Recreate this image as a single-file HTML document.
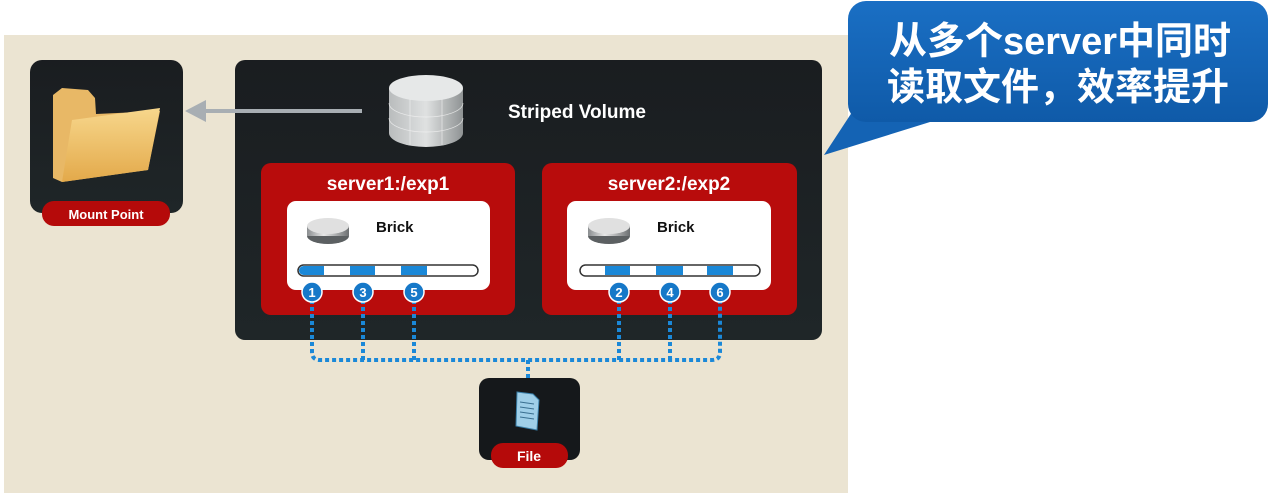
<!DOCTYPE html>
<html><head><meta charset="utf-8"><style>
html,body{margin:0;padding:0;background:#fff;}
svg{display:block;}
text{font-family:"Liberation Sans","DejaVu Sans","Noto Sans CJK SC",sans-serif;font-weight:bold;}
</style></head><body>
<svg width="1268" height="493" viewBox="0 0 1268 493" xmlns="http://www.w3.org/2000/svg">
<defs>
<linearGradient id="dark" x1="0" y1="0" x2="0" y2="1"><stop offset="0" stop-color="#1a1d20"/><stop offset="1" stop-color="#1f2628"/></linearGradient>
<linearGradient id="disk" x1="0" y1="0" x2="1" y2="0"><stop offset="0" stop-color="#8a8d8f"/><stop offset="0.4" stop-color="#e8e8e8"/><stop offset="1" stop-color="#6c6f71"/></linearGradient>
<linearGradient id="cyl" x1="0" y1="0" x2="1" y2="0"><stop offset="0" stop-color="#b9bcbd"/><stop offset="0.5" stop-color="#dfe1e1"/><stop offset="1" stop-color="#8f9394"/></linearGradient>
<linearGradient id="fold" x1="0" y1="0" x2="0" y2="1"><stop offset="0" stop-color="#f7d78c"/><stop offset="1" stop-color="#e3a94a"/></linearGradient>
<linearGradient id="blue" x1="0" y1="0" x2="0" y2="1"><stop offset="0" stop-color="#1a6fc4"/><stop offset="1" stop-color="#0f5aa8"/></linearGradient>
</defs>
<!-- background -->
<rect x="4" y="35" width="844" height="458" fill="#ebe4d2"/>
<!-- mount point -->
<rect x="30" y="60" width="153" height="153" rx="12" fill="url(#dark)"/>
<path d="M53 95 L53 178 L62 182 L148 170 L160 111 L96 114 L95 98 L88 90 L62 88 Z" fill="#e8b866"/>
<path d="M62 182 L72 120 L160 108 L148 170 Z" fill="url(#fold)"/>
<rect x="42" y="201" width="128" height="25" rx="12" fill="#b50a0a"/>
<text x="106" y="219" font-size="13" fill="#fff" text-anchor="middle">Mount Point</text>
<!-- main dark box -->
<rect x="235" y="60" width="587" height="280" rx="10" fill="url(#dark)"/>
<line x1="362" y1="111" x2="205" y2="111" stroke="#a8aeb3" stroke-width="4"/>
<polygon points="185,111 206,100 206,122" fill="#a8aeb3"/>
<!-- cylinder -->
<path d="M389 88 L389 133 A37 14 0 0 0 463 133 L463 88 Z" fill="url(#cyl)"/>
<ellipse cx="426" cy="88" rx="37" ry="13" fill="#e6e8e8"/>
<g stroke="#f4f4f4" stroke-width="0.7" fill="none" opacity="0.8">
<path d="M389 103 A37 14 0 0 0 463 103"/><path d="M389 118 A37 14 0 0 0 463 118"/>
<line x1="410" y1="99" x2="410" y2="145"/><line x1="442" y1="99" x2="442" y2="145"/>
</g>
<text x="508" y="118" font-size="19" fill="#fff">Striped Volume</text>
<!-- servers -->
<g>
<rect x="261" y="163" width="254" height="152" rx="10" fill="#b80c0c"/>
<text x="388" y="190" font-size="19" fill="#fff" text-anchor="middle">server1:/exp1</text>
<rect x="287" y="201" width="203" height="89" rx="9" fill="#fff"/>
<ellipse cx="328" cy="236" rx="21" ry="8" fill="#5c6062"/>
<rect x="307" y="226" width="42" height="10" fill="url(#disk)"/>
<ellipse cx="328" cy="226" rx="21" ry="8" fill="#e0e0e0"/>
<text x="376" y="232" font-size="15" fill="#111">Brick</text>
<rect x="298" y="265" width="180" height="11" rx="5.5" fill="#fff" stroke="#333" stroke-width="1.5"/>
<path d="M303.5 266 L324 266 L324 275 L303.5 275 A4.5 4.5 0 0 1 303.5 266Z" fill="#1a88d8"/>
<rect x="350" y="266" width="25" height="9" fill="#1a88d8"/>
<rect x="401" y="266" width="26" height="9" fill="#1a88d8"/>
</g>
<g>
<rect x="542" y="163" width="255" height="152" rx="10" fill="#b80c0c"/>
<text x="669" y="190" font-size="19" fill="#fff" text-anchor="middle">server2:/exp2</text>
<rect x="567" y="201" width="204" height="89" rx="9" fill="#fff"/>
<ellipse cx="609" cy="236" rx="21" ry="8" fill="#5c6062"/>
<rect x="588" y="226" width="42" height="10" fill="url(#disk)"/>
<ellipse cx="609" cy="226" rx="21" ry="8" fill="#e0e0e0"/>
<text x="657" y="232" font-size="15" fill="#111">Brick</text>
<rect x="580" y="265" width="180" height="11" rx="5.5" fill="#fff" stroke="#333" stroke-width="1.5"/>
<rect x="605" y="266" width="25" height="9" fill="#1a88d8"/>
<rect x="656" y="266" width="27" height="9" fill="#1a88d8"/>
<rect x="707" y="266" width="26" height="9" fill="#1a88d8"/>
</g>
<!-- dotted connectors -->
<g stroke="#1a88d8" stroke-width="4" stroke-dasharray="4 3" fill="none">
<path d="M312 300 L312 352 Q312 360 320 360 L712 360 Q720 360 720 352 L720 300"/>
<line x1="363" y1="300" x2="363" y2="360"/><line x1="414" y1="300" x2="414" y2="360"/>
<line x1="619" y1="300" x2="619" y2="360"/><line x1="670" y1="300" x2="670" y2="360"/>
<line x1="528" y1="360" x2="528" y2="380"/>
</g>
<g font-size="13" fill="#fff" text-anchor="middle">
<circle cx="312" cy="292" r="10" fill="#1678c8" stroke="#fff" stroke-width="1.5"/><text x="312" y="297">1</text>
<circle cx="363" cy="292" r="10" fill="#1678c8" stroke="#fff" stroke-width="1.5"/><text x="363" y="297">3</text>
<circle cx="414" cy="292" r="10" fill="#1678c8" stroke="#fff" stroke-width="1.5"/><text x="414" y="297">5</text>
<circle cx="619" cy="292" r="10" fill="#1678c8" stroke="#fff" stroke-width="1.5"/><text x="619" y="297">2</text>
<circle cx="670" cy="292" r="10" fill="#1678c8" stroke="#fff" stroke-width="1.5"/><text x="670" y="297">4</text>
<circle cx="720" cy="292" r="10" fill="#1678c8" stroke="#fff" stroke-width="1.5"/><text x="720" y="297">6</text>
</g>
<!-- file -->
<rect x="479" y="378" width="101" height="82" rx="10" fill="#15181b"/>
<path d="M517 392 L533 394 L539 400 L537 430 L516 426 Z" fill="#9fcfe8" stroke="#3a7fa8" stroke-width="1"/>
<g stroke="#3a6f90" stroke-width="1"><line x1="520" y1="402" x2="534" y2="404"/><line x1="520" y1="407" x2="534" y2="409"/><line x1="520" y1="412" x2="534" y2="414"/><line x1="520" y1="417" x2="534" y2="419"/></g>
<rect x="491" y="443" width="77" height="25" rx="12" fill="#b50a0a"/>
<text x="529" y="461" font-size="14" fill="#fff" text-anchor="middle">File</text>
<!-- callout -->
<path d="M860 100 L824 155 L930 122 Z" fill="#1463b4"/>
<rect x="848" y="1" width="420" height="121" rx="18" fill="url(#blue)"/>
<text x="1060" y="54" font-size="38" fill="#fff" text-anchor="middle" font-family="Liberation Sans,Noto Sans CJK SC,sans-serif">从多个server中同时</text>
<text x="1058" y="100" font-size="38" fill="#fff" text-anchor="middle" font-family="Liberation Sans,Noto Sans CJK SC,sans-serif">读取文件，效率提升</text>
</svg>
</body></html>
